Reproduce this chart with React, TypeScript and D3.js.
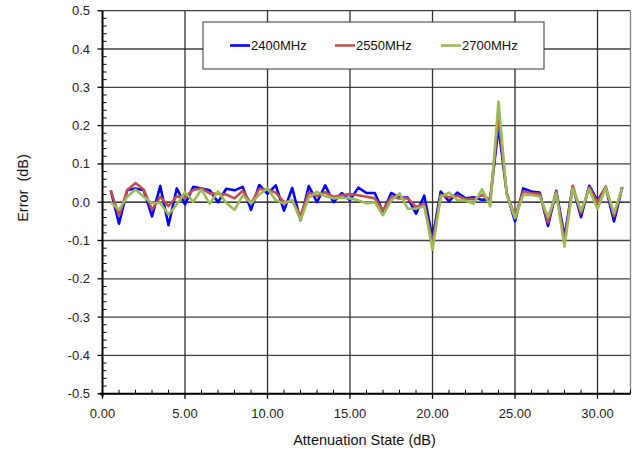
import React from "react";
import * as d3 from "d3";

const xValues: number[] = d3.range(1, 64).map((i) => i * 0.5);

const series2400: number[] = [
  0.031, -0.056, 0.032, 0.036, 0.031, -0.037, 0.042, -0.06, 0.036, -0.006,
  0.04, 0.036, 0.031, 0.0, 0.035, 0.031, 0.04, -0.02, 0.045, 0.022,
  0.044, -0.022, 0.037, -0.047, 0.042, 0.0, 0.044, 0.0, 0.024, 0.005,
  0.038, 0.024, 0.024, -0.025, 0.024, 0.012, 0.012, -0.03, 0.017, -0.095,
  0.028, 0.002, 0.025, 0.01, 0.013, 0.006, 0.008, 0.197, 0.023, -0.05,
  0.036, 0.028, 0.025, -0.062, 0.03, -0.09, 0.041, -0.039, 0.043, 0.004,
  0.039, -0.05, 0.039,
];

const series2550: number[] = [
  0.031, -0.035, 0.032, 0.05, 0.033, -0.02, 0.014, -0.01, 0.015, 0.013,
  0.032, 0.036, 0.023, 0.022, 0.02, 0.01, 0.03, -0.003, 0.035, 0.033,
  0.025, 0.0, 0.004, -0.036, 0.026, 0.016, 0.026, 0.014, 0.018, 0.021,
  0.018, 0.014, 0.01, -0.021, 0.014, 0.01, 0.01, -0.012, -0.005, -0.107,
  0.019, 0.013, 0.017, 0.008, 0.008, 0.019, 0.006, 0.223, 0.023, -0.037,
  0.028, 0.023, 0.022, -0.053, 0.028, -0.103, 0.043, -0.029, 0.039, -0.001,
  0.041, -0.037, 0.039,
];

const series2700: number[] = [
  0.0, -0.02, 0.014, 0.033, 0.014, -0.002, -0.002, -0.032, -0.006, 0.026,
  0.001, 0.033, -0.004, 0.028, -0.002, -0.02, 0.018, -0.003, 0.02, 0.036,
  0.005, -0.003, 0.005, -0.047, 0.012, 0.027, 0.016, 0.01, 0.012, 0.01,
  0.005, -0.003, 0.0, -0.034, 0.005, 0.023, -0.017, -0.017, -0.01, -0.124,
  0.015, 0.025, 0.006, 0.004, -0.004, 0.034, -0.011, 0.263, 0.019, -0.042,
  0.019, 0.019, 0.015, -0.039, 0.023, -0.116, 0.037, -0.022, 0.034, -0.018,
  0.037, -0.029, 0.037,
];

const seriesNames: string[] = ["2400MHz", "2550MHz", "2700MHz"];
const seriesColors: string[] = ["#0000FF", "#C0504D", "#9BBB59"];

const xTicks: number[] = [0, 5, 10, 15, 20, 25, 30];
const yTicks: number[] = [-0.5, -0.4, -0.3, -0.2, -0.1, 0, 0.1, 0.2, 0.3, 0.4, 0.5];

const W = 634;
const H = 455;
const left = 102.5;
const right = 630.5;
const top = 10.7;
const bottom = 393.7;

export default function App() {
  const x = d3.scaleLinear().domain([0, 32]).range([left, right]);
  const y = d3.scaleLinear().domain([-0.5, 0.5]).range([bottom, top]);
  const allSeries = [series2400, series2550, series2700];
  const line = d3
    .line<number>()
    .x((_, i) => x(xValues[i]))
    .y((d) => y(d));

  const xMinor = d3.range(0, 33, 1).filter((v) => v % 5 !== 0);
  const yMinor = d3.range(-50, 51, 2).filter((v) => v % 10 !== 0).map((v) => v / 100);
  const font = "'Liberation Sans', Arial, sans-serif";

  const legendX = 203;
  const legendY = 22;
  const legendItemX = [230, 335, 441];

  return (
    <svg
      width={W}
      height={H}
      style={{ position: "absolute", left: 0, top: 0, background: "#fff" }}
      fontFamily={font}
    >
      <rect x={0} y={0} width={W} height={H} fill="#fff" />
      {/* horizontal gridlines */}
      {yTicks.map((t) => (
        <line
          key={"hg" + t}
          x1={left}
          x2={right}
          y1={y(t)}
          y2={y(t)}
          stroke={t === 0 ? "#000" : "#404040"}
          strokeWidth={1.3}
        />
      ))}
      {/* vertical gridlines */}
      {xTicks.filter((t) => t > 0).map((t) => (
        <line
          key={"vg" + t}
          x1={x(t)}
          x2={x(t)}
          y1={top}
          y2={bottom}
          stroke="#303030"
          strokeWidth={1.3}
        />
      ))}
      <line x1={right} x2={right} y1={top} y2={bottom} stroke="#808080" strokeWidth={1.3} />
      {/* series */}
      {allSeries.map((s, i) => (
        <path
          key={"s" + i}
          d={line(s) || ""}
          fill="none"
          stroke={seriesColors[i]}
          strokeWidth={2.6}
          strokeLinejoin="round"
        />
      ))}
      {/* axes */}
      <line x1={left} x2={left} y1={top} y2={bottom + 3} stroke="#000" strokeWidth={2} />
      <line x1={left - 3} x2={right} y1={bottom} y2={bottom} stroke="#000" strokeWidth={2} />
      {yTicks.map((t) => (
        <line key={"yt" + t} x1={left - 5} x2={left} y1={y(t)} y2={y(t)} stroke="#000" strokeWidth={1.3} />
      ))}
      {yMinor.map((t) => (
        <line key={"ym" + t} x1={left} x2={left + 4} y1={y(t)} y2={y(t)} stroke="#000" strokeWidth={1} />
      ))}
      {xTicks.map((t) => (
        <line key={"xt" + t} x1={x(t)} x2={x(t)} y1={bottom} y2={bottom + 5} stroke="#000" strokeWidth={1.3} />
      ))}
      {xMinor.map((t) => (
        <line key={"xm" + t} x1={x(t)} x2={x(t)} y1={bottom - 4} y2={bottom} stroke="#000" strokeWidth={1} />
      ))}
      {/* tick labels */}
      {yTicks.map((t) => (
        <text
          key={"yl" + t}
          x={90}
          y={y(t)}
          dy="0.35em"
          textAnchor="end"
          fontSize={13}
          fill="#222"
        >
          {d3.format(".1f")(t).replace("−", "-")}
        </text>
      ))}
      {xTicks.map((t) => (
        <text
          key={"xl" + t}
          x={x(t)}
          y={413}
          dy="0.35em"
          textAnchor="middle"
          fontSize={13}
          fill="#222"
        >
          {d3.format(".2f")(t)}
        </text>
      ))}
      {/* axis titles */}
      <text x={(left + right) / 2 - 2} y={440} dy="0.35em" textAnchor="middle" fontSize={14.5} fill="#111">
        Attenuation State (dB)
      </text>
      <text
        transform={`translate(23, 188) rotate(-90)`}
        dy="0.35em"
        textAnchor="middle"
        fontSize={14.5}
        fill="#111"
        style={{ whiteSpace: "pre" }}
      >
        {"Error  (dB)"}
      </text>
      {/* legend */}
      <rect
        x={legendX}
        y={legendY}
        width={341}
        height={47}
        fill="#fff"
        stroke="#333"
        strokeWidth={1}
      />
      {seriesNames.map((n, i) => (
        <g key={"lg" + i}>
          <line
            x1={legendItemX[i]}
            x2={legendItemX[i] + 20}
            y1={45.5}
            y2={45.5}
            stroke={seriesColors[i]}
            strokeWidth={2.6}
          />
          <text x={legendItemX[i] + 21} y={45.5} dy="0.35em" fontSize={13} fill="#111">
            {n}
          </text>
        </g>
      ))}
    </svg>
  );
}
